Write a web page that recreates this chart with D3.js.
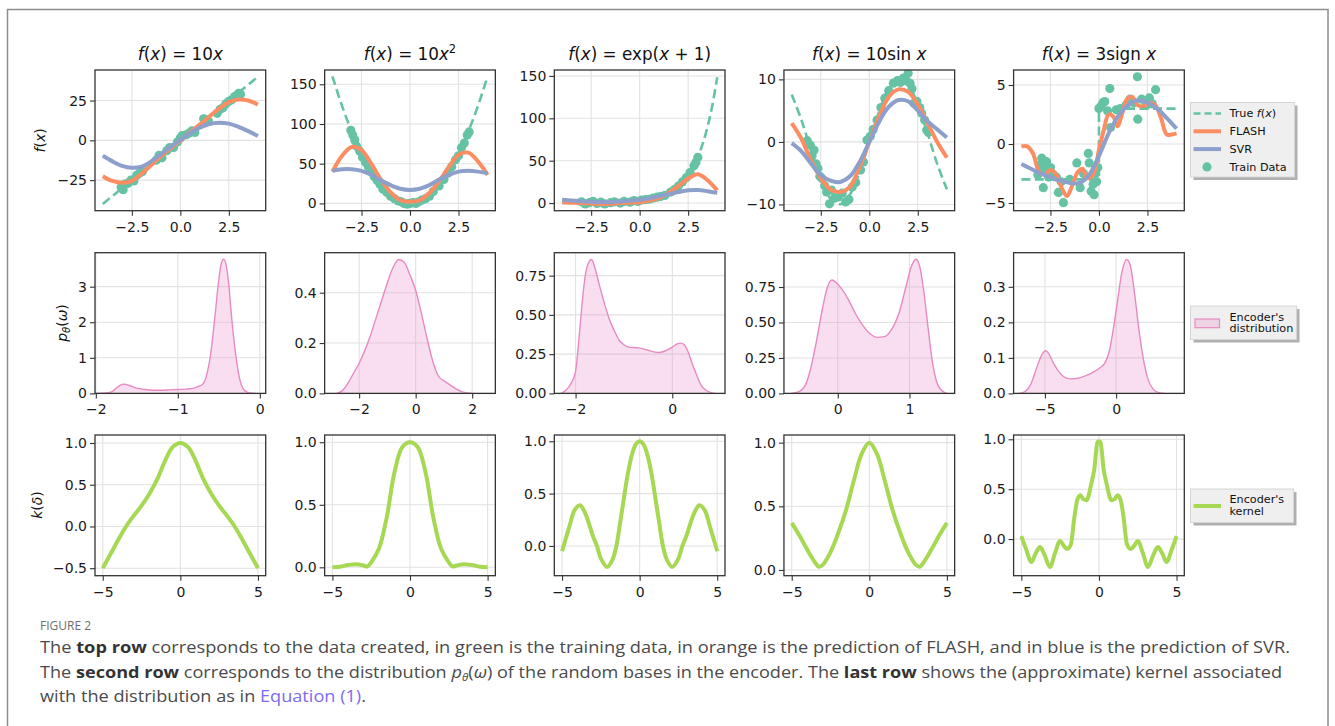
<!DOCTYPE html>
<html><head><meta charset="utf-8">
<script src="https://cdn.jsdelivr.net/npm/d3@7"></script>
<style>body{margin:0;background:#fff}svg{display:block}</style>
</head><body><svg id="c" width="1335" height="726"></svg>
<script>
// ---------------- DATA ----------------
// top row: shared x grid for the model predictions
const topX = [-4,-3.5,-3,-2.5,-2,-1.5,-1,-0.5,0,0.5,1,1.5,2,2.5,3,3.5,4];
// f(x)=10x
const true1X = [-4, 4];
const true1Y = [-40, 40];
const flash1 = [-22.5,-25.5,-26.6,-25.5,-21,-15.5,-10,-5,0,5,10,15,20,24,25.7,25,22.5];
const svr1 = [-9.7,-13.2,-16,-17.2,-16.5,-13.2,-8.6,-4,0.5,4.5,8,10.3,11.1,10.5,8.5,5.8,2.7];
const dots1X = [-3.05,-2.95,-2.85,-2.7,-2.55,-2.4,-2.25,-2.1,-1.95,-1.25,-1.1,-0.95,-0.7,-0.55,-0.35,-0.15,0.0,0.1,0.3,0.45,0.6,0.75,1.2,1.3,1.45,1.9,2.05,2.2,2.35,2.5,2.65,2.8,2.9,3.0,3.1];
const dots1Y = [-29.5,-31,-27.5,-27,-25,-25.5,-22,-20.5,-19.5,-12.5,-9.5,-11,-6.5,-4.5,-4.5,-1,1.5,3,3.5,4.5,6,5,13.5,13,12,17,19.5,20.5,23,24.5,25.5,27.5,28,29.5,29];
// f(x)=10x^2
const true2Y = [160,122.5,90,62.5,40,22.5,10,2.5,0,2.5,10,22.5,40,62.5,90,122.5,160];
const flash2 = [40,60,71,67,50,30,14,4,2,4,13,28,46,61,64,53,36];
const svr2 = [41,43,43,41,36,29,23,18.5,17,18.5,23,30,36,40,41,40,38];
const dots2X = [-3.05,-2.95,-2.85,-2.75,-2.6,-2.45,-2.3,-2.15,-2.0,-1.85,-1.7,-1.55,-1.4,-1.2,-1.0,-0.8,-0.6,-0.45,-0.3,-0.15,0.0,0.15,0.3,0.45,0.6,0.8,1.0,1.2,1.5,1.75,1.95,2.15,2.35,2.5,2.65,2.8,2.95,3.05];
const dots2Y = [92,86,80,72,66,58,52,46,42,34,29,24,18,14,9,6,3,2,0,-1,0,1,0,2,4,6,9,15,22,30,38,46,55,60,70,76,86,90];
// f(x)=exp(x+1)
const true3X = [-4,-3,-2,-1,0,0.5,1,1.5,2,2.5,3,3.25,3.5,3.75,4];
const true3Y = [0.05,0.14,0.37,1,2.72,4.48,7.39,12.18,20.09,33.12,54.6,70.11,90.02,115.58,148.41];
const flash3 = [1,0.5,0,-0.5,-1,-0.8,0,0.5,1,3,6,12,20,29,34,27,15];
const svr3 = [4,3,2,1.5,1.2,1.3,1.8,2.8,4,5.8,8,10.5,13,15,15.5,14,12];
const dots3X = [-3.0,-2.8,-2.6,-2.4,-2.2,-2.0,-1.8,-1.5,-1.3,-1.0,-0.8,-0.5,-0.3,-0.1,0.1,0.3,0.5,0.7,0.9,1.1,1.3,1.6,1.8,2.0,2.2,2.4,2.6,2.8,2.9,3.0];
const dots3Y = [1.5,-1,0.5,2,-0.5,1,-1,0.5,1.5,0,2,1,3,2,3.5,4,4.5,6,7,8,9,13,16,20,25,30,36,44,48,54];
// f(x)=10 sin x
const true4Y = [7.57,3.51,-1.41,-5.98,-9.09,-9.97,-8.41,-4.79,0,4.79,8.41,9.97,9.09,5.98,1.41,-3.51,-7.57];
const flash4 = [3,0.5,-3,-5.8,-7.6,-8,-7.2,-4,0,4,7.2,8.4,8,6,3,0,-2.5];
const svr4 = [-0.2,-1.5,-3.5,-5.3,-6.2,-6.4,-5.5,-3.2,0,3.2,5.6,6.7,6.5,5,3.3,2,0.7];
const dots4X = [-3.2,-3.05,-2.95,-2.85,-2.75,-2.65,-2.55,-2.45,-2.3,-2.2,-2.05,-1.95,-1.8,-1.6,-1.4,-1.22,-1.05,-0.88,-0.7,-0.45,-0.3,-0.12,0.05,0.2,0.4,0.6,0.8,1.0,1.24,1.45,1.6,1.75,1.9,2.0,2.1,2.2,2.3,2.45,2.6,2.7,2.85,2.96,3.05];
const dots4Y = [0.2,-0.5,-2.2,-1.3,-3.5,-4.2,-5.5,-5.8,-7,-8,-9.9,-7.7,-9,-8.8,-8.2,-9.6,-9.2,-7.2,-6.5,-4.5,-3.2,0.3,0.9,2,3.5,5.5,7,8.2,9.4,9.8,9.5,10.2,9.8,11,9.4,8.5,6.2,6.5,5.5,4.6,3.5,1.9,1.5];
// f(x)=3 sign x
const true5X = [-4,0,0,4];
const true5Y = [-3,-3,3,3];
const flash5X = [-4,-3.7,-3.4,-3.1,-2.8,-2.5,-2.2,-1.9,-1.65,-1.4,-1.1,-0.85,-0.6,-0.3,0,0.25,0.5,0.75,0.95,1.2,1.45,1.7,2.0,2.3,2.6,2.9,3.2,3.5,3.75,4.0];
const flash5Y = [-0.2,-0.2,-0.8,-2.3,-2.6,-2.2,-2.6,-3.8,-4.4,-3.6,-2.4,-2.1,-2.9,-2.6,-0.5,1.2,2.5,2.3,1.5,2.6,3.8,4.0,3.3,3.2,3.5,3.3,2.2,0.8,0.8,0.9];
const svr5 = [-1.7,-2.1,-2.5,-2.8,-3.1,-3.3,-3.3,-2.6,-1,0.9,2.4,3.3,3.7,3.5,3,2.2,1.3];
const dots5X = [-3.15,-3.05,-2.95,-2.87,-2.8,-2.7,-2.6,-2.5,-2.35,-2.2,-2.09,-1.95,-1.83,-1.5,-1.14,-0.97,-0.8,-0.55,-0.5,-0.4,-0.3,-0.25,-0.18,-0.12,-0.06,0.0,0.1,0.2,0.3,0.45,0.56,0.6,0.9,1.1,1.4,1.6,1.8,1.98,2.0,2.2,2.45,2.6,2.75,2.92];
const dots5Y = [-2.6,-1.8,-1.2,-3.7,-2.2,-1.5,-2.8,-2.0,-2.6,-2.8,-4.1,-3.2,-4.97,-3.0,-1.6,-3.7,-2.5,-0.8,-1.6,-4.0,-3.4,-4.3,-2.5,-3.2,-2.0,3.0,3.2,3.5,3.6,2.8,4.7,1.4,2.9,3.0,3.3,3.8,3.5,5.7,2.1,3.8,3.3,3.9,3.4,4.6];

// second row: encoder distributions (density curves)
const kde1X = [-2.0,-1.9,-1.8,-1.75,-1.7,-1.65,-1.6,-1.5,-1.4,-1.3,-1.2,-1.1,-1.0,-0.9,-0.8,-0.75,-0.7,-0.65,-0.6,-0.55,-0.5,-0.47,-0.44,-0.41,-0.38,-0.35,-0.3,-0.25,-0.2,-0.15,-0.1,-0.05];
const kde1Y = [0,0.005,0.05,0.15,0.23,0.26,0.23,0.15,0.11,0.09,0.09,0.1,0.11,0.12,0.15,0.2,0.25,0.5,1.1,2.1,3.2,3.65,3.77,3.6,3.1,2.3,1.2,0.45,0.12,0.03,0.005,0];
const kde2X = [-2.8,-2.6,-2.4,-2.2,-2.0,-1.8,-1.6,-1.4,-1.2,-1.0,-0.8,-0.6,-0.4,-0.2,0,0.2,0.4,0.6,0.8,1.0,1.2,1.4,1.6,1.8,2.0];
const kde2Y = [0,0.01,0.04,0.08,0.12,0.17,0.23,0.3,0.37,0.44,0.5,0.532,0.52,0.47,0.41,0.32,0.22,0.13,0.07,0.05,0.035,0.02,0.008,0.002,0];
const kde3X = [-2.3,-2.2,-2.1,-2.0,-1.95,-1.9,-1.85,-1.8,-1.72,-1.67,-1.6,-1.5,-1.4,-1.3,-1.2,-1.1,-1.0,-0.9,-0.7,-0.5,-0.3,-0.15,0,0.1,0.18,0.25,0.32,0.4,0.5,0.6,0.7,0.8,0.9];
const kde3Y = [0,0.02,0.06,0.14,0.28,0.45,0.62,0.75,0.84,0.853,0.8,0.68,0.57,0.47,0.4,0.34,0.31,0.295,0.29,0.275,0.26,0.27,0.295,0.315,0.32,0.31,0.27,0.2,0.12,0.05,0.02,0.005,0];
const kde4X = [-0.65,-0.55,-0.45,-0.38,-0.3,-0.22,-0.15,-0.08,-0.02,0.05,0.15,0.25,0.35,0.45,0.55,0.65,0.75,0.85,0.95,1.03,1.09,1.14,1.2,1.26,1.32,1.38,1.45,1.52];
const kde4Y = [0,0.01,0.06,0.17,0.36,0.58,0.74,0.8,0.78,0.74,0.66,0.56,0.48,0.42,0.395,0.4,0.45,0.56,0.75,0.9,0.946,0.9,0.72,0.46,0.22,0.08,0.02,0];
const kde5X = [-6.8,-6.4,-6,-5.6,-5.2,-4.95,-4.7,-4.4,-4,-3.6,-3.2,-2.8,-2.4,-2,-1.6,-1.2,-0.8,-0.5,-0.2,0.1,0.4,0.75,1.0,1.3,1.6,1.9,2.2,2.6,3.0,3.4];
const kde5Y = [0,0.005,0.025,0.07,0.11,0.12,0.11,0.085,0.06,0.045,0.041,0.042,0.046,0.052,0.06,0.07,0.085,0.115,0.18,0.26,0.34,0.377,0.36,0.28,0.18,0.1,0.045,0.012,0.002,0];

// third row: encoder kernels
const k1X = [-5,-4.5,-4,-3.5,-3,-2.5,-2,-1.5,-1,-0.5,0,0.5,1,1.5,2,2.5,3,3.5,4,4.5,5];
const k1Y = [-0.5,-0.33,-0.16,0.0,0.13,0.25,0.39,0.56,0.78,0.95,1.0,0.95,0.78,0.56,0.39,0.25,0.13,0.0,-0.16,-0.33,-0.5];
const k2X = [-5,-4.5,-4,-3.5,-3,-2.75,-2.5,-2,-1.5,-1,-0.5,0,0.5,1,1.5,2,2.5,2.75,3,3.5,4,4.5,5];
const k2Y = [0,0.005,0.018,0.025,0.015,0.006,0.04,0.15,0.4,0.76,0.96,1.0,0.96,0.76,0.4,0.15,0.04,0.006,0.015,0.025,0.018,0.005,0];
const k3X = [-5,-4.5,-4.2,-3.85,-3.5,-3,-2.75,-2.5,-2.1,-1.75,-1.5,-1.25,-1,-0.75,-0.5,-0.25,0,0.25,0.5,0.75,1,1.25,1.5,1.75,2.1,2.5,2.75,3,3.5,3.85,4.2,4.5,5];
const k3Y = [-0.05,0.2,0.34,0.39,0.31,0.09,0.0,-0.12,-0.2,-0.13,0.0,0.23,0.47,0.7,0.87,0.97,1.0,0.97,0.87,0.7,0.47,0.23,0.0,-0.13,-0.2,-0.12,0.0,0.09,0.31,0.39,0.34,0.2,-0.05];
const k4X = [-5,-4.5,-4,-3.5,-3.25,-3,-2.5,-2,-1.5,-1,-0.5,0,0.5,1,1.5,2,2.5,3,3.25,3.5,4,4.5,5];
const k4Y = [0.37,0.27,0.16,0.06,0.025,0.04,0.14,0.29,0.47,0.7,0.91,1.0,0.91,0.7,0.47,0.29,0.14,0.04,0.025,0.06,0.16,0.27,0.37];
const k5X = [-5,-4.7,-4.35,-4.1,-3.8,-3.5,-3.15,-2.85,-2.5,-2.3,-2.05,-1.8,-1.6,-1.4,-1.2,-1.0,-0.8,-0.5,-0.3,-0.1,0,0.1,0.3,0.5,0.8,1.0,1.2,1.4,1.6,1.8,2.05,2.3,2.5,2.85,3.15,3.5,3.8,4.1,4.35,4.7,5];
const k5Y = [0.03,-0.1,-0.23,-0.15,-0.08,-0.16,-0.28,-0.15,-0.02,-0.06,-0.1,-0.05,0.2,0.39,0.44,0.4,0.39,0.55,0.7,0.97,0.98,0.97,0.7,0.55,0.39,0.4,0.44,0.39,0.2,-0.05,-0.1,-0.06,-0.02,-0.15,-0.28,-0.16,-0.08,-0.15,-0.23,-0.1,0.03];

// tick labels
const topXTicks = [-2.5, 0, 2.5];
const topYTicks = [[-25,0,25],[0,50,100,150],[0,50,100,150],[-10,0,10],[-5,0,5]];
const midXTicks = [[-2,-1,0],[-2,0,2],[-2,0],[0,1],[-5,0]];
const midYTicks = [[0,1,2,3],[0,0.2,0.4],[0,0.25,0.5,0.75],[0,0.25,0.5,0.75],[0,0.1,0.2,0.3]];
const botXTicks = [-5,0,5];
const botYTicks = [[-0.5,0,0.5,1],[0,0.5,1],[0,0.5,1],[0,0.5,1],[0,0.5,1]];

// ---------------- LAYOUT / STYLE ----------------
const C = {green:'#66c2a5', orange:'#fc8d62', blue:'#8da0cb', pink:'#e78ac3', lime:'#a6d854'};
const L0 = 95, DX = 229.65, PW = 170.7, PH = 140.7;
const rowTop = [70, 252.7, 435];
const FONT = "'DejaVu Sans', sans-serif";
const topYD = [[-44.2,44.2],[-9.2,168],[-9,157],[-11,11.5],[-5.65,6.27]];
const midXD = [[-2.01,0.072],[-3.22,2.82],[-2.44,1.09],[-0.75,1.63],[-7.2,4.79]];
const midYD = [[0,3.955],[0,0.559],[0,0.896],[0,0.992],[0,0.396]];
const botYD = [[-0.59,1.096],[-0.067,1.058],[-0.284,1.06],[-0.045,1.06],[-0.367,1.043]];
const midYF = ['d','.1f','.2f','.2f','.1f'];

const svg = d3.select('#c');
svg.append('rect').attr('x',0).attr('y',0).attr('width',1335).attr('height',726).attr('fill','#fff');
svg.append('rect').attr('x',7.5).attr('y',9.5).attr('width',1320.5).attr('height',740)
  .attr('fill','#fff').attr('stroke','#8c8c8c').attr('stroke-width',1.5);

function panel(col,row,xd,yd,xt,yt,xf,yf){
  const x0 = L0+col*DX, y0 = rowTop[row];
  const g = svg.append('g').attr('transform',`translate(${x0},${y0})`);
  const x = d3.scaleLinear().domain(xd).range([0,PW]);
  const y = d3.scaleLinear().domain(yd).range([PH,0]);
  g.selectAll('line.gx').data(xt).join('line').attr('class','gx')
    .attr('x1',d=>x(d)).attr('x2',d=>x(d)).attr('y1',0).attr('y2',PH)
    .attr('stroke','#e2e2e2').attr('stroke-width',1.1);
  g.selectAll('line.gy').data(yt).join('line').attr('class','gy')
    .attr('y1',d=>y(d)).attr('y2',d=>y(d)).attr('x1',0).attr('x2',PW)
    .attr('stroke','#e2e2e2').attr('stroke-width',1.1);
  const id = `clip${row}${col}`;
  g.append('clipPath').attr('id',id).append('rect').attr('width',PW).attr('height',PH);
  const plot = g.append('g').attr('clip-path',`url(#${id})`);
  function finish(){
    const ax = g.append('g').attr('transform',`translate(0,${PH})`)
      .call(d3.axisBottom(x).tickValues(xt).tickFormat(d3.format(xf)).tickSize(5).tickPadding(6));
    const ay = g.append('g')
      .call(d3.axisLeft(y).tickValues(yt).tickFormat(d3.format(yf)).tickSize(5).tickPadding(3));
    [ax,ay].forEach(a=>{
      a.select('.domain').remove();
      a.selectAll('line').attr('stroke','#333').attr('stroke-width',1.1);
      a.selectAll('text').attr('font-family',FONT).attr('font-size',14).attr('fill','#1a1a1a');
    });
    g.append('rect').attr('width',PW).attr('height',PH).attr('fill','none')
      .attr('stroke','#333').attr('stroke-width',1.3);
  }
  return {g,plot,x,y,finish};
}

const curve = d3.curveCatmullRom.alpha(0.5);
function path(p, xs, ys, c){
  return d3.line().x((d,i)=>p.x(xs[i])).y(d=>p.y(d)).curve(c||curve)(ys);
}

// ---------------- TOP ROW ----------------
const topSets = [
  {tx:true1X, ty:true1Y, tc:d3.curveLinear, fx:topX, fy:flash1, sy:svr1, dx:dots1X, dy:dots1Y},
  {tx:topX, ty:true2Y, tc:curve, fx:topX, fy:flash2, sy:svr2, dx:dots2X, dy:dots2Y},
  {tx:true3X, ty:true3Y, tc:curve, fx:topX, fy:flash3, sy:svr3, dx:dots3X, dy:dots3Y},
  {tx:topX, ty:true4Y, tc:curve, fx:topX, fy:flash4, sy:svr4, dx:dots4X, dy:dots4Y},
  {tx:true5X, ty:true5Y, tc:d3.curveLinear, fx:flash5X, fy:flash5Y, sy:svr5, dx:dots5X, dy:dots5Y}
];
topSets.forEach((s,i)=>{
  const p = panel(i,0,[-4.4,4.4],topYD[i],topXTicks,topYTicks[i],'.1f','d');
  p.plot.selectAll('circle').data(s.dy).join('circle')
    .attr('cx',(d,j)=>p.x(s.dx[j])).attr('cy',d=>p.y(d)).attr('r',4.6).attr('fill',C.green);
  p.plot.append('path').attr('d',path(p,s.tx,s.ty,s.tc)).attr('fill','none')
    .attr('stroke',C.green).attr('stroke-width',2.6).attr('stroke-dasharray','9,4.5');
  p.plot.append('path').attr('d',path(p,s.fx,s.fy)).attr('fill','none')
    .attr('stroke',C.orange).attr('stroke-width',4).attr('stroke-linejoin','round');
  p.plot.append('path').attr('d',path(p,topX,s.sy)).attr('fill','none')
    .attr('stroke',C.blue).attr('stroke-width',4).attr('stroke-linejoin','round');
  p.finish();
});

// ---------------- MIDDLE ROW ----------------
const kdeSets = [[kde1X,kde1Y],[kde2X,kde2Y],[kde3X,kde3Y],[kde4X,kde4Y],[kde5X,kde5Y]];
kdeSets.forEach((s,i)=>{
  const p = panel(i,1,midXD[i],midYD[i],midXTicks[i],midYTicks[i],'d',midYF[i]);
  const area = d3.area().x((d,j)=>p.x(s[0][j])).y0(p.y(0)).y1(d=>p.y(d)).curve(d3.curveMonotoneX);
  const line = d3.line().x((d,j)=>p.x(s[0][j])).y(d=>p.y(d)).curve(d3.curveMonotoneX);
  p.plot.append('path').attr('d',area(s[1])).attr('fill',C.pink).attr('fill-opacity',0.28);
  p.plot.append('path').attr('d',line(s[1])).attr('fill','none').attr('stroke',C.pink).attr('stroke-width',1.4);
  p.finish();
});

// ---------------- BOTTOM ROW ----------------
const kSets = [[k1X,k1Y],[k2X,k2Y],[k3X,k3Y],[k4X,k4Y],[k5X,k5Y]];
kSets.forEach((s,i)=>{
  const p = panel(i,2,[-5.5,5.5],botYD[i],botXTicks,botYTicks[i],'d','.1f');
  p.plot.append('path').attr('d',path(p,s[0],s[1], i===4? d3.curveMonotoneX : curve)).attr('fill','none')
    .attr('stroke',C.lime).attr('stroke-width',4).attr('stroke-linejoin','round');
  p.finish();
});

// ---------------- TITLES ----------------
const titles = [
  [['f','i'],['(',''],['x','i'],[') = 10',''],['x','i']],
  [['f','i'],['(',''],['x','i'],[') = 10',''],['x','i'],['2','sup']],
  [['f','i'],['(',''],['x','i'],[') = exp(',''],['x','i'],[' + 1)','']],
  [['f','i'],['(',''],['x','i'],[') = 10sin ',''],['x','i']],
  [['f','i'],['(',''],['x','i'],[') = 3sign ',''],['x','i']]
];
titles.forEach((t,i)=>{
  const tx = svg.append('text').attr('x',L0+i*DX+PW/2).attr('y',60).attr('text-anchor','middle')
    .attr('font-family',FONT).attr('font-size',16.8).attr('fill','#111');
  t.forEach(([s,f])=>{
    const ts = tx.append('tspan').text(s);
    if(f==='i') ts.attr('font-style','italic');
    if(f==='sup') ts.attr('font-size',11.5).attr('dy',-7);
  });
});

// ---------------- Y LABELS ----------------
function ylabel(cx,cy,parts){
  const t = svg.append('text').attr('transform',`translate(${cx},${cy}) rotate(-90)`)
    .attr('text-anchor','middle').attr('dy','0.35em').attr('font-family',FONT).attr('font-size',14).attr('fill','#111');
  parts.forEach(([s,f])=>{
    const ts = t.append('tspan').text(s);
    if(f.includes('i')) ts.attr('font-style','italic');
    if(f.includes('sub')) ts.attr('font-size',10).attr('dy',3);
    if(f.includes('back')) ts.attr('dy',-3);
  });
}
ylabel(40.5, 140.3, [['f','i'],['(',''],['x','i'],[')','']]);
ylabel(62.5, 323, [['p','i'],['θ','i sub'],['(','back'],['ω','i'],[')','']]);
ylabel(37, 505, [['k','i'],['(',''],['δ','i'],[')','']]);

// ---------------- LEGENDS ----------------
function legendBox(x,y,w,h){
  svg.append('rect').attr('x',x+3).attr('y',y+3).attr('width',w).attr('height',h).attr('fill','#b0b0b0');
  svg.append('rect').attr('x',x).attr('y',y).attr('width',w).attr('height',h).attr('fill','#efefef').attr('stroke','#d6d6d6');
}
function ltext(x,y,parts){
  const t = svg.append('text').attr('x',x).attr('y',y).attr('dy','0.35em').attr('font-family',FONT).attr('font-size',11.2).attr('fill','#111');
  parts.forEach(([s,f])=>{ const ts=t.append('tspan').text(s); if(f==='i') ts.attr('font-style','italic'); });
}
legendBox(1190.5,102.5,104,74.5);
const legY = [113.5,131.3,149.1,166.9];
svg.append('line').attr('x1',1193.5).attr('x2',1221).attr('y1',legY[0]).attr('y2',legY[0]).attr('stroke',C.green).attr('stroke-width',2.6).attr('stroke-dasharray','7,4');
svg.append('line').attr('x1',1193.5).attr('x2',1221).attr('y1',legY[1]).attr('y2',legY[1]).attr('stroke',C.orange).attr('stroke-width',4);
svg.append('line').attr('x1',1193.5).attr('x2',1221).attr('y1',legY[2]).attr('y2',legY[2]).attr('stroke',C.blue).attr('stroke-width',4);
svg.append('circle').attr('cx',1207).attr('cy',legY[3]).attr('r',4.6).attr('fill',C.green);
ltext(1229.5,legY[0],[['True ',''],['f','i'],['(',''],['x','i'],[')','']]);
ltext(1229.5,legY[1],[['FLASH','']]);
ltext(1229.5,legY[2],[['SVR','']]);
ltext(1229.5,legY[3],[['Train Data','']]);

legendBox(1190.5,306,106,33.5);
svg.append('rect').attr('x',1195).attr('y',319).attr('width',24.5).attr('height',8.7)
  .attr('fill',C.pink).attr('fill-opacity',0.28).attr('stroke',C.pink).attr('stroke-width',1.2);
ltext(1229.5,316.7,[["Encoder's",'']]);
ltext(1229.5,328.3,[['distribution','']]);

legendBox(1190.5,489,103,33.5);
svg.append('line').attr('x1',1193.5).attr('x2',1221).attr('y1',506).attr('y2',506).attr('stroke',C.lime).attr('stroke-width',4);
ltext(1229.5,499.5,[["Encoder's",'']]);
ltext(1229.5,511.2,[['kernel','']]);

// ---------------- CAPTION ----------------
const CF = "'Open Sans', 'Noto Sans', sans-serif";
svg.append('text').attr('x',40).attr('y',629.5).attr('font-family',CF).attr('font-size',12).attr('fill','#6e6e6e').text('FIGURE 2');
function capLine(y,len,parts){
  const t = svg.append('text').attr('x',40).attr('y',y).attr('font-family',CF).attr('font-size',15.5).attr('fill','#4a4a4a')
    .attr('textLength',len).attr('lengthAdjust','spacingAndGlyphs');
  parts.forEach(([s,f])=>{
    const ts = t.append('tspan').text(s);
    if(f==='b') ts.attr('font-weight','bold').attr('fill','#333');
    if(f==='i') ts.attr('font-style','italic');
    if(f==='sub') ts.attr('font-style','italic').attr('font-size',10).attr('dy',3);
    if(f==='back') ts.attr('dy',-3);
    if(f==='link') ts.attr('fill','#7a6cf0');
  });
}
capLine(653, 1250, [['The ',''],['top row','b'],[' corresponds to the data created, in green is the training data, in orange is the prediction of FLASH, and in blue is the prediction of SVR.','']]);
capLine(678, 1242, [['The ',''],['second row','b'],[' corresponds to the distribution ',''],['p','i'],['θ','sub'],['(','back'],['ω','i'],[') of the random bases in the encoder. The ',''],['last row','b'],[' shows the (approximate) kernel associated','']]);
capLine(702, 326, [['with the distribution as in ',''],['Equation (1)','link'],['.','']]);
</script></body></html>
